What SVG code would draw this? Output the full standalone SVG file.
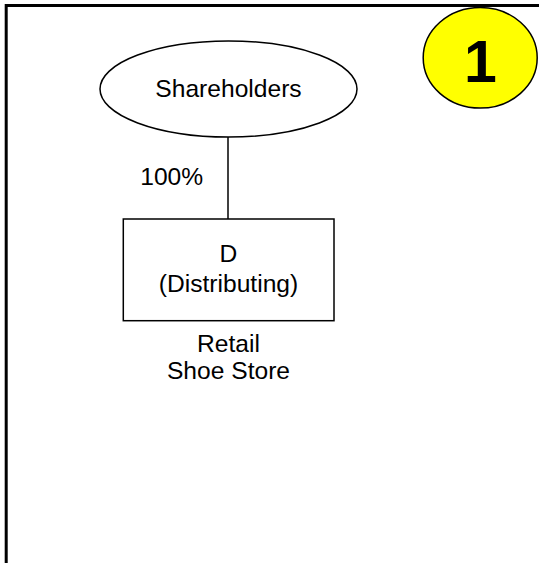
<svg xmlns="http://www.w3.org/2000/svg" width="539" height="563" viewBox="0 0 539 563">
<style>
.t{font-family:"Liberation Sans",Arial,sans-serif;font-size:24.6px;fill:#000;text-anchor:middle}
.s{fill:#fff;stroke:#000;stroke-width:1.5}
</style>
<rect width="539" height="563" fill="#fff"/>
<path d="M6.2,570 V5.5 H545" fill="none" stroke="#000" stroke-width="3"/>
<g id="connectors">
<line x1="228" y1="137" x2="228" y2="219" stroke="#000" stroke-width="1.5"/>
<text class="t" x="171.7" y="185">100%</text>
</g>
<g id="shareholders">
<ellipse class="s" cx="228.5" cy="89" rx="128.5" ry="48"/>
<text class="t" x="228.5" y="97">Shareholders</text>
</g>
<g id="d">
<rect class="s" x="123.3" y="219" width="210.7" height="101.7"/>
<text class="t" x="228.5" y="261.7">D</text>
<text class="t" x="228.5" y="291.7">(Distributing)</text>
<text class="t" x="228.5" y="352">Retail</text>
<text class="t" x="228.5" y="379.3">Shoe Store</text>
</g>
<g id="badge">
<ellipse cx="480.2" cy="57.8" rx="57" ry="50.3" fill="#ffff00" stroke="#000" stroke-width="1.5"/>
<text x="480.5" y="81.7" style="font-family:'Liberation Sans',Arial,sans-serif;font-size:59px;font-weight:bold;text-anchor:middle">1</text>
</g>
</svg>
